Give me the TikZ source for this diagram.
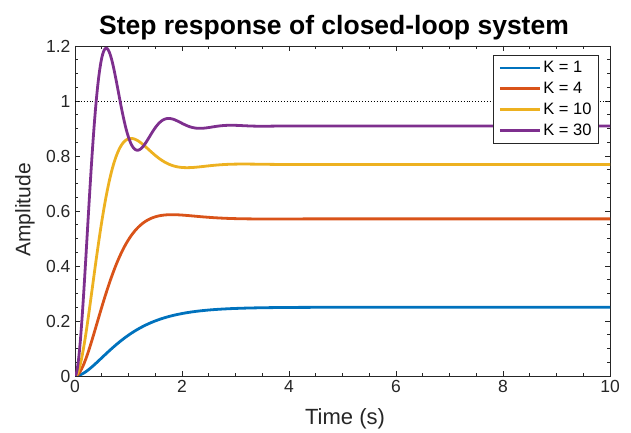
\documentclass[tikz,border=0pt]{standalone}
\usepackage{fontspec}
\setmainfont{Liberation Sans}
\setsansfont{Liberation Sans}
\usepackage{pgfplots}
\pgfplotsset{compat=1.18}
\definecolor{mblue}{rgb}{0,0.447,0.741}
\definecolor{mred}{rgb}{0.85,0.325,0.098}
\definecolor{myellow}{rgb}{0.929,0.694,0.125}
\definecolor{mpurple}{rgb}{0.494,0.184,0.556}
\definecolor{axgray}{rgb}{0.15,0.15,0.15}
\tikzset{curve/.style={line width=2.8pt, line join=round}}
\begin{document}
\begin{tikzpicture}[x=1pt,y=1pt]
\useasboundingbox (0,0) rectangle (631,433);
\begin{axis}[
  at={(75pt,57pt)}, anchor=south west,
  scale only axis, width=535pt, height=330pt,
  xmin=0, xmax=10, ymin=0, ymax=1.2,
  xtick={0,2,...,10}, ytick={0,0.2,...,1.2},
  xticklabels={0,2,4,6,8,10},
  yticklabels={0,0.2,0.4,0.6,0.8,1,1.2},
  minor xtick={0,0.5,...,10}, minor ytick={0,0.05,...,1.2},
  tick align=inside, major tick length=5pt, minor tick length=3pt,
  axis line style={axgray, line width=0.9pt},
  every tick/.style={axgray, line width=0.9pt},
  tick label style={font=\fontsize{17.5}{20}\selectfont, text=axgray},
  xticklabel style={yshift=-1pt},
  yticklabel style={xshift=-1pt},
  legend style={at={(axis cs:9.794,1.167)}, anchor=north east, draw=axgray, line width=0.9pt,
    font=\fontsize{16.5}{19}\selectfont, text=black, inner xsep=5pt, inner ysep=4pt, row sep=4pt,
    cells={anchor=west}},
  legend cell align=left,
  legend image code/.code={\draw[#1, line width=2.8pt] (0pt,0pt) -- (40pt,0pt);},
  samples=500, domain=0:10, clip=true
]
\addplot [black, dotted, line width=0.9pt, forget plot] coordinates {(0,1) (10,1)};
\addplot [curve, mblue] {0.25*(1-exp(-2*x)*(1+2*x))};
\addplot [curve, mred] {(4/7)*(1-exp(-2*x)*(cos(deg(1.7320508*x))+1.1547005*sin(deg(1.7320508*x))))};
\addplot [curve, myellow] {(10/13)*(1-exp(-2*x)*(cos(deg(3*x))+0.6666667*sin(deg(3*x))))};
\addplot [curve, mpurple] {(30/33)*(1-exp(-2*x)*(cos(deg(5.3851648*x))+0.3713907*sin(deg(5.3851648*x))))};
\legend{K = 1, K = 4, K = 10, K = 30}
\end{axis}
\node[font=\fontsize{26.5}{30}\selectfont\bfseries, anchor=base] (title) at (334,398) {Step response of closed-loop system};
\node[font=\fontsize{22}{26}\selectfont, text=axgray, anchor=base] (xlab) at (345,8) {Time (s)};
\node[font=\fontsize{21}{25}\selectfont, text=axgray, rotate=90] (ylab) at (25,223) {Amplitude};
\end{tikzpicture}
\end{document}
